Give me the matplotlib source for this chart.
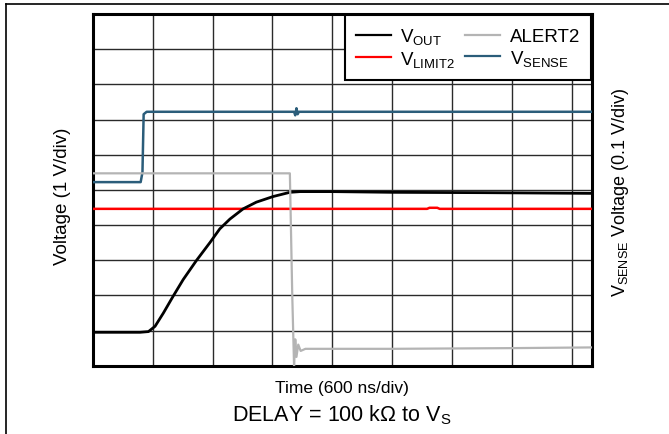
import matplotlib
matplotlib.use('Agg')
import matplotlib.pyplot as plt
from matplotlib.lines import Line2D

plt.rcParams['font.family'] = ['Liberation Sans', 'DejaVu Sans']
plt.rcParams['mathtext.fontset'] = 'custom'
plt.rcParams['mathtext.rm'] = 'Liberation Sans'
plt.rcParams['mathtext.it'] = 'Liberation Sans:italic'

# all values in scope divisions (x: 600 ns/div, y: 1 V/div)
vout_t = [0.0, 0.79, 0.93, 1.04, 1.18, 1.34, 1.51, 1.73, 1.96, 2.12, 2.29, 2.51, 2.73,
          3.01, 3.29, 3.46, 4.0, 5.0, 6.5, 8.34]
vout_v = [0.95, 0.95, 0.97, 1.12, 1.5, 1.97, 2.45, 2.99, 3.51, 3.89, 4.17, 4.46, 4.65,
          4.81, 4.93, 4.95, 4.95, 4.93, 4.92, 4.9]

vlimit_t = [0.0, 5.58, 5.62, 5.75, 5.79, 8.34]
vlimit_v = [4.46, 4.46, 4.49, 4.49, 4.46, 4.46]

alert_t = [0.0, 3.29, 3.33, 3.36, 3.38, 3.40, 3.43, 3.47, 3.55, 5.0, 7.0, 8.34]
alert_v = [5.47, 5.47, 2.0, 0.0, 0.75, 0.25, 0.6, 0.42, 0.48, 0.48, 0.5, 0.52]

vsense_t = [0.0, 0.8, 0.83, 0.85, 0.9, 3.36, 3.38, 3.40, 3.42, 3.44, 8.34]
vsense_v = [5.22, 5.22, 5.5, 7.15, 7.22, 7.22, 7.12, 7.32, 7.15, 7.22, 7.22]

fig = plt.figure(figsize=(6.69, 4.35), dpi=100)
ax = fig.add_axes([0.1386, 0.157, 0.7464, 0.8085])

ax.plot(vlimit_t, vlimit_v, color='#ff0000', lw=1.8, zorder=3)
ax.plot(vout_t, vout_v, color='black', lw=2.0, zorder=4)
ax.plot(vsense_t, vsense_v, color='#2b5d7a', lw=1.8, zorder=5)
ax.plot(alert_t, alert_v, color='#b4b4b4', lw=1.6, zorder=6)

ax.set_xlim(0, 500 / 60)
ax.set_ylim(0, 10)
ax.set_xticks(range(0, 9))
ax.set_yticks(range(0, 11))
ax.tick_params(length=0, labelbottom=False, labelleft=False)
ax.grid(True, color='#2a2a2a', lw=1.0)
for s in ax.spines.values():
    s.set_linewidth(2.2)

handles = [Line2D([], [], color='black', lw=1.6),
           Line2D([], [], color='#ff0000', lw=1.6),
           Line2D([], [], color='#b4b4b4', lw=1.6),
           Line2D([], [], color='#2b5d7a', lw=1.6)]
labels = [r'V$_{\mathrm{OUT}}$', r'V$_{\mathrm{LIMIT2}}$', 'ALERT2', r'V$_{\mathrm{SENSE}}$']
leg = ax.legend(handles, labels, ncol=2, loc='upper right', fontsize=13.5,
                frameon=True, fancybox=False, edgecolor='black', framealpha=1,
                borderpad=0.6, handlelength=1.85, handletextpad=0.5, columnspacing=0.55,
                labelspacing=0.15, borderaxespad=0.05)
leg.get_frame().set_linewidth(1.5)
leg.set_zorder(10)

fig.text(0.511, 0.108, 'Time (600 ns/div)', ha='center', va='center', fontsize=12.5)
fig.text(0.511, 0.046, r'DELAY = 100 k$\Omega$ to V$_{\mathrm{S}}$', ha='center', va='center', fontsize=15.5)
fig.text(0.094, 0.549, 'Voltage (1 V/div)', ha='center', va='center', rotation=90, fontsize=13.5)
fig.text(0.927, 0.559, r'V$_{\mathrm{SENSE}}$ Voltage (0.1 V/div)', ha='center', va='center',
         rotation=90, fontsize=13)

# cell border lines at top and left
fig.add_artist(Line2D([6 / 669, 1], [1 - 5.3 / 435] * 2, transform=fig.transFigure, color='black', lw=1.2))
fig.add_artist(Line2D([6 / 669] * 2, [0, 1 - 5.3 / 435], transform=fig.transFigure, color='black', lw=1.2))

fig.savefig('out.png', dpi=100)
